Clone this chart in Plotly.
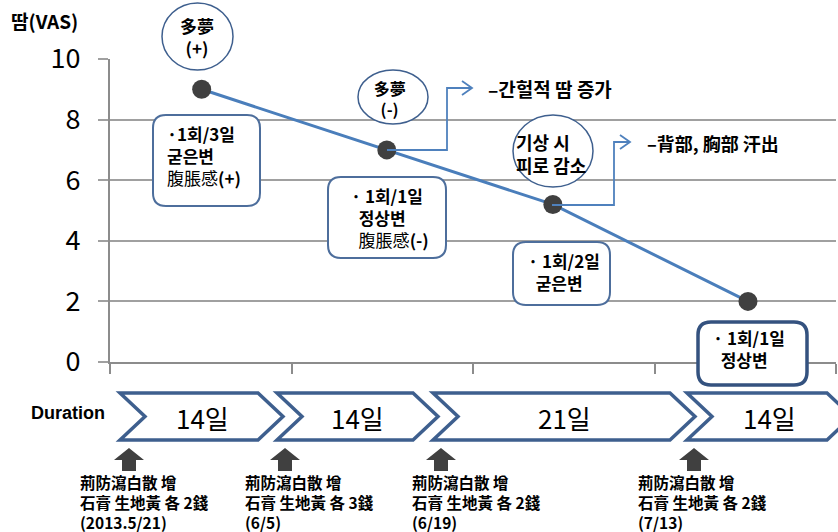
import plotly.graph_objects as go

# ---------------- data ----------------
visit_x = [0.505, 1.525, 2.44, 3.515]
vas_values = [9.0, 7.0, 5.2, 2.0]
y_tick_vals = [0, 2, 4, 6, 8, 10]
duration_labels = ["14일", "14일", "21일", "14일"]
formula_lines = ["荊防瀉白散 增", "荊防瀉白散 增", "荊防瀉白散 增", "荊防瀉白散 增"]
dose_lines = ["石膏 生地黃 各 2錢", "石膏 生地黃 各 3錢", "石膏 生地黃 各 2錢", "石膏 生地黃 各 2錢"]
date_labels = ["(2013.5/21)", "(6/5)", "(6/19)", "(7/13)"]
circle_notes = ["多夢<br>(+)", "&nbsp;多夢&nbsp;<br>&nbsp;(-)&nbsp;", "기상 시<br>피로 감소"]
side_notes = ["–간헐적 땀 증가", "–背部, 胸部 汗出"]
box_notes = [
    "<b>·1회/3일</b><br><b>굳은변</b>&nbsp;<br>腹脹感<b>(+)</b>",
    "<b>· 1회/1일</b><br>&nbsp;&nbsp;<b>정상변</b><br>&nbsp;&nbsp;腹脹感<b>(-)</b>",
    "<b>· 1회/2일</b><br>&nbsp;&nbsp;<b>굳은변</b>",
    "<b>· 1회/1일</b><br>&nbsp;&nbsp;<b>정상변</b>",
]

# ---------------- layout helpers ----------------
W, H = 838, 532
ML, MR, MT, MB = 110, 2, 59, 170
PW = W - ML - MR
PH = H - MT - MB


def px(x):
    return (x - ML) / PW


def py(y):
    return (H - MB - y) / PH


def P(x, y):
    return f"{px(x):.5f},{py(y):.5f}"


FONT = "Noto Sans CJK KR"
BLUE = "#4A7EBB"
BOX_BLUE = "#4D6E9C"
DARK = "#404040"
GRID = "#A0A0A0"

fig = go.Figure()
fig.add_trace(go.Scatter(
    x=visit_x, y=vas_values, mode="lines+markers",
    line=dict(color=BLUE, width=3),
    marker=dict(color=DARK, size=19),
    hoverinfo="skip", showlegend=False,
))

shapes = []
annotations = []


def rounded_box(x0, y0, x1, y1, r, color, width):
    path = (f"M {P(x0 + r, y0)} L {P(x1 - r, y0)} Q {P(x1, y0)} {P(x1, y0 + r)} "
            f"L {P(x1, y1 - r)} Q {P(x1, y1)} {P(x1 - r, y1)} "
            f"L {P(x0 + r, y1)} Q {P(x0, y1)} {P(x0, y1 - r)} "
            f"L {P(x0, y0 + r)} Q {P(x0, y0)} {P(x0 + r, y0)} Z")
    shapes.append(dict(type="path", path=path, xref="paper", yref="paper",
                       fillcolor="white", line=dict(color=color, width=width), layer="above"))


def text(x, y, s, size, xanchor="left", bold=False, color="black", family=FONT, align="left"):
    annotations.append(dict(x=px(x), y=py(y), xref="paper", yref="paper",
                            text=(f"<b>{s}</b>" if bold else s), showarrow=False,
                            xanchor=xanchor, yanchor="middle", align=align,
                            font=dict(family=family, size=size, color=color)))


# circles
circle_boxes = [(162, 3, 233, 70), (358, 70, 428, 124), (513, 115, 593, 187)]
for (x0, y0, x1, y1) in circle_boxes:
    shapes.append(dict(type="circle", xref="paper", yref="paper",
                       x0=px(x0), x1=px(x1), y0=py(y1), y1=py(y0),
                       fillcolor="white", line=dict(color="#3E5F8E", width=1.5), layer="above"))
text(197, 36, circle_notes[0], 17, "center", True, align="center")
text(389, 98, circle_notes[1], 16, "center", True, align="center")
text(514, 153, circle_notes[2], 18, "left", True)

# connectors with open arrowheads
conn = [
    [(387, 150), (447, 150), (447, 88), (472, 88)],
    [(552, 205), (614, 205), (614, 142), (630, 142)],
]
for pts in conn:
    path = "M " + " L ".join(P(x, y) for x, y in pts)
    shapes.append(dict(type="path", path=path, xref="paper", yref="paper",
                       line=dict(color="#4F81BD", width=1.8), layer="above"))
    tx, ty = pts[-1]
    head = f"M {P(tx - 10, ty - 7)} L {P(tx, ty)} L {P(tx - 10, ty + 7)}"
    shapes.append(dict(type="path", path=head, xref="paper", yref="paper",
                       line=dict(color="#4F81BD", width=1.8), layer="above"))
text(486, 88, side_notes[0], 19, "left", True)
text(645, 143, side_notes[1], 18, "left", True)

# boxes
box_geo = [(153, 115, 260, 206, 2), (328, 177, 446, 258, 2),
           (513, 242, 610, 305, 2), (698, 322, 807, 385, 3.5)]
box_colors = [BOX_BLUE, BOX_BLUE, BOX_BLUE, "#34527F"]
for (x0, y0, x1, y1, w), c in zip(box_geo, box_colors):
    rounded_box(x0, y0, x1, y1, 13, c, w)
box_text_pos = [(165, 155), (349, 217), (526, 271), (711, 348)]
for s, (x, y) in zip(box_notes, box_text_pos):
    text(x, y, s, 17, "left")

# y-axis title
text(9, 20, "땀(VAS)", 19, "left", True)

# Duration row
text(29, 413, "Duration", 18, "left", True, family="Liberation Sans")
chevrons = [(120, 283), (277, 438), (433, 695), (687, 852)]
label_x = [202, 357, 564, 769]
yt, yb, d = 393, 440, 25
ym = (yt + yb) / 2
for (x0, x1) in chevrons:
    path = (f"M {P(x0, yt)} L {P(x1 - d, yt)} L {P(x1, ym)} L {P(x1 - d, yb)} "
            f"L {P(x0, yb)} L {P(x0 + d, ym)} Z")
    shapes.append(dict(type="path", path=path, xref="paper", yref="paper",
                       fillcolor="white", line=dict(color="#3E5F8E", width=3.5), layer="above"))
for lab, x in zip(duration_labels, label_x):
    text(x, 417, lab, 26, "center")

# up arrows and prescription notes
arrow_x = [129, 285, 441, 694]
for cx in arrow_x:
    path = (f"M {P(cx, 448)} L {P(cx + 15, 460)} L {P(cx + 7, 460)} L {P(cx + 7, 471)} "
            f"L {P(cx - 7, 471)} L {P(cx - 7, 460)} L {P(cx - 15, 460)} Z")
    shapes.append(dict(type="path", path=path, xref="paper", yref="paper",
                       fillcolor=DARK, line=dict(color=DARK, width=0), layer="above"))
note_x = [78, 243, 410, 636]
for f, dl, dt, x in zip(formula_lines, dose_lines, date_labels, note_x):
    text(x, 502, f"{f}<br>{dl}<br>{dt}", 15.5, "left", True)

fig.update_layout(
    width=W, height=H,
    margin=dict(l=ML, r=MR, t=MT, b=MB, pad=0),
    paper_bgcolor="white", plot_bgcolor="white",
    shapes=shapes, annotations=annotations,
    xaxis=dict(range=[0, 4], dtick=1, tick0=0, showgrid=False, zeroline=False,
               showline=True, linecolor="#8C8C8C", linewidth=2,
               ticks="outside", ticklen=10, tickwidth=2, tickcolor="#8C8C8C",
               showticklabels=False, fixedrange=True),
    yaxis=dict(range=[0, 10], tickvals=y_tick_vals, showgrid=True, gridcolor=GRID, gridwidth=1.5,
               zeroline=False, showline=True, linecolor="#8C8C8C", linewidth=2,
               ticks="outside", ticklen=10, tickwidth=1.5, tickcolor=GRID,
               ticklabelstandoff=12,
               tickfont=dict(family=FONT, size=27, color="black"), fixedrange=True),
    showlegend=False,
)

fig.write_html("out.html", config={"displayModeBar": False},
               post_script="document.body.style.margin='0px';")
